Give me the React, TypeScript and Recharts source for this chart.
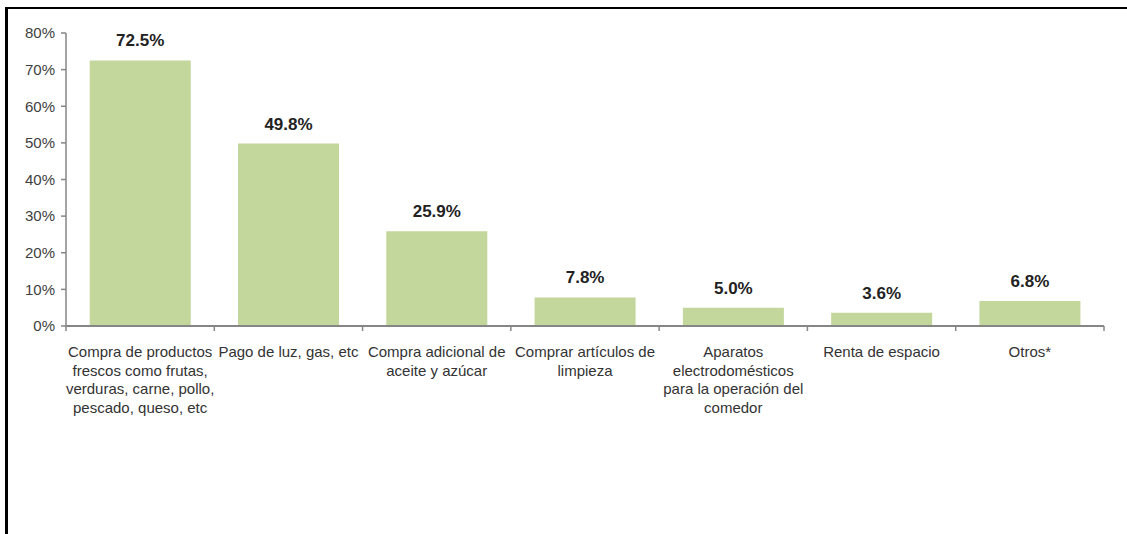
import React from "react";
import { BarChart, Bar, XAxis, YAxis, LabelList } from "recharts";

const categories: string[] = [
  "Compra de productos frescos como frutas, verduras, carne, pollo, pescado, queso, etc",
  "Pago de luz, gas, etc",
  "Compra adicional de aceite y azúcar",
  "Comprar artículos de limpieza",
  "Aparatos electrodomésticos para la operación del comedor",
  "Renta de espacio",
  "Otros*",
];

const categoryLines: string[][] = [
  ["Compra de productos", "frescos como frutas,", "verduras, carne, pollo,", "pescado, queso, etc"],
  ["Pago de luz, gas, etc"],
  ["Compra adicional de", "aceite y azúcar"],
  ["Comprar artículos de", "limpieza"],
  ["Aparatos", "electrodomésticos", "para la operación del", "comedor"],
  ["Renta de espacio"],
  ["Otros*"],
];

const values: number[] = [72.5, 49.8, 25.9, 7.8, 5.0, 3.6, 6.8];

const yTicks: number[] = [0, 10, 20, 30, 40, 50, 60, 70, 80];

const data = categories.map((c, i) => ({ name: c, value: values[i], idx: i }));

const FONT = "'Liberation Sans', Arial, sans-serif";
const AXIS_COLOR = "#868686";

const XTick = (props: any) => {
  const { x, y, payload, index, visibleTicksCount } = props;
  const half = payload && typeof payload.offset === "number" ? payload.offset : 74;
  const lines = categoryLines[index] || [payload.value];
  const count = visibleTicksCount || categories.length;
  return (
    <g>
      <line x1={x - half} y1={y} x2={x - half} y2={y + 5} stroke={AXIS_COLOR} strokeWidth={1.5} />
      {index === count - 1 && (
        <line x1={x + half} y1={y} x2={x + half} y2={y + 5} stroke={AXIS_COLOR} strokeWidth={1.5} />
      )}
      <text x={x} y={y} textAnchor="middle" fontFamily={FONT} fontSize={15} fill="#333">
        {lines.map((l: string, i: number) => (
          <tspan key={i} x={x} dy={i === 0 ? 31 : 18.7}>
            {l}
          </tspan>
        ))}
      </text>
    </g>
  );
};

export default function App() {
  return (
    <div style={{ position: "absolute", left: 0, top: 0, width: 1127, height: 534, background: "#fff" }}>
      <div
        style={{
          position: "absolute",
          left: 5,
          top: 7,
          width: 1122,
          height: 527,
          borderTop: "2px solid #000",
          borderLeft: "3px solid #000",
          boxSizing: "border-box",
        }}
      />
      <div style={{ position: "absolute", left: 0, top: 0 }}>
        <BarChart
          width={1127}
          height={534}
          data={data}
          margin={{ top: 33, right: 23, left: 0, bottom: 98 }}
          barCategoryGap="16%"
          style={{ fontFamily: FONT }}
        >
          <XAxis
            dataKey="name"
            height={110}
            interval={0}
            tickSize={0}
            tickMargin={0}
            tick={<XTick />}
            axisLine={{ stroke: AXIS_COLOR, strokeWidth: 2 }}
            tickLine={false}
          />
          <YAxis
            width={66}
            domain={[0, 80]}
            ticks={yTicks}
            interval={0}
            tickFormatter={(v: number) => `${v}%`}
            tickSize={5}
            tickMargin={6}
            axisLine={{ stroke: AXIS_COLOR, strokeWidth: 1.5 }}
            tickLine={{ stroke: AXIS_COLOR, strokeWidth: 1.5 }}
            tick={{ fontFamily: FONT, fontSize: 15, fill: "#404040" }}
          />
          <Bar dataKey="value" fill="#c3d69b" isAnimationActive={false}>
            <LabelList
              dataKey="value"
              position="top"
              offset={14}
              formatter={(v: any) => `${Number(v).toFixed(1)}%`}
              style={{ fontFamily: FONT, fontSize: 17, fontWeight: 700, fill: "#222" }}
            />
          </Bar>
        </BarChart>
      </div>
    </div>
  );
}
